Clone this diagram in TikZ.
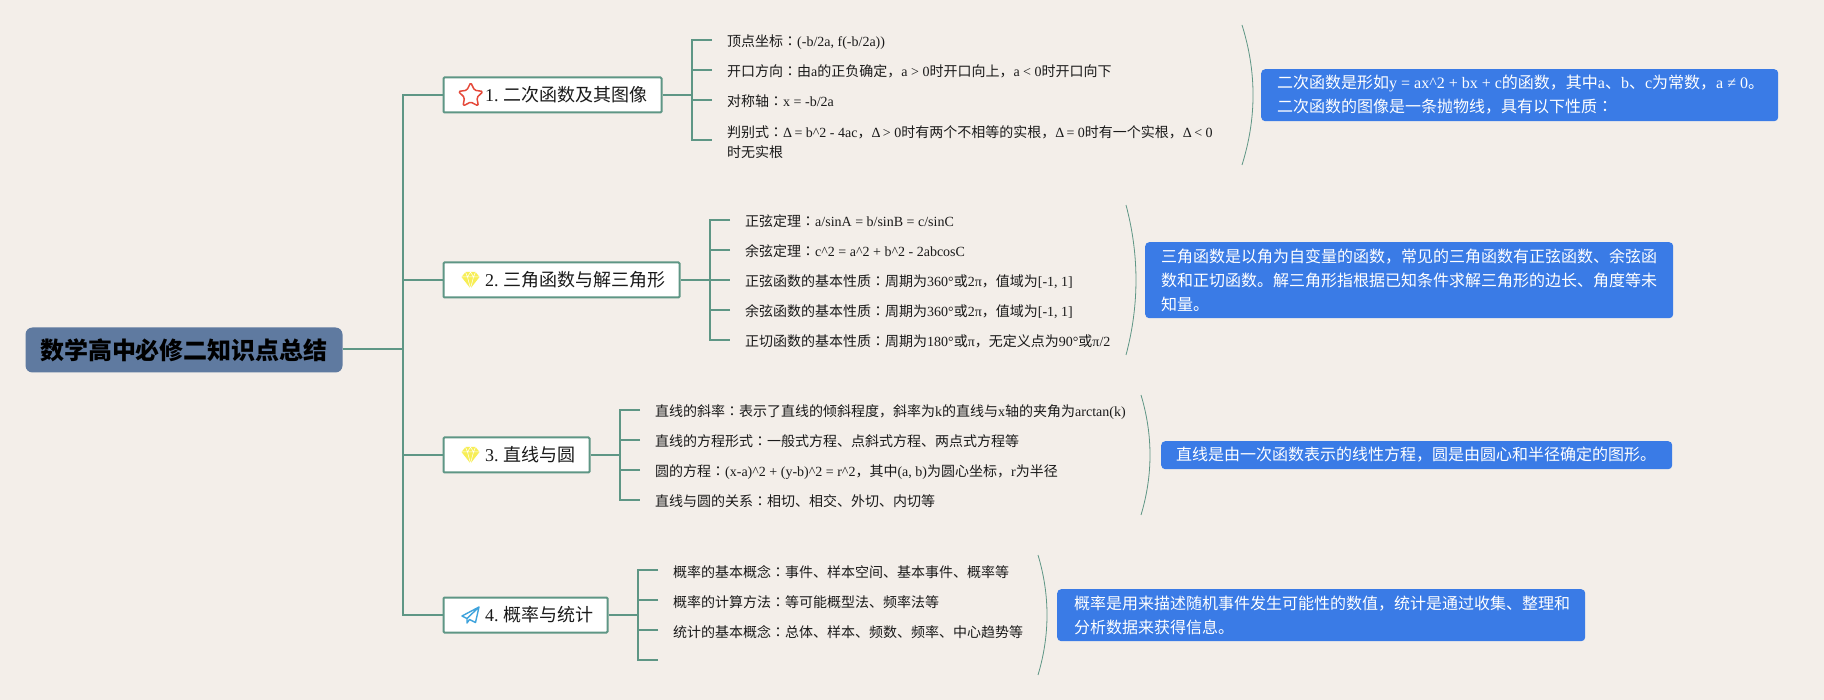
\documentclass[tikz,border=0pt]{standalone}
\usepackage{fontspec}
\setmainfont{Liberation Serif}
\newfontfamily\cjk{Noto Sans CJK SC}
\newfontfamily\cjkt{Noto Sans CJK TC}
\newcommand\Cn[1]{{\cjk #1}}
\newcommand\Co{{\cjkt ：}}
\newcommand\ca{\textasciicircum{}}
\newcommand\Dl{Δ\kern-1.2pt}
\frenchspacing
\definecolor{bgc}{HTML}{F3EEE9}
\definecolor{linec}{HTML}{5E9685}
\definecolor{rootc}{HTML}{5F7AA0}
\definecolor{bluec}{HTML}{3A7BE6}
\definecolor{inkc}{HTML}{1A1A1A}
\definecolor{starc}{HTML}{E5493A}
\definecolor{gemc}{HTML}{F7EE55}
\definecolor{planec}{HTML}{3FA3DC}
\tikzset{
  conn/.style={draw=linec,line width=2pt},
  brace/.style={draw=linec,line width=0.8pt},
  rootnode/.style={fill=rootc,rounded corners=7pt,minimum width=317pt,minimum height=45pt,inner sep=0pt,text=black,font=\fontsize{24}{28}\selectfont\bfseries},
  branch/.style={draw=linec,fill=white,line width=2pt,rounded corners=1pt,minimum height=35pt,inner sep=0pt,anchor=west,text=inkc,font=\fontsize{18}{22}\selectfont},
  leafbase/.style={anchor=west,inner xsep=15pt,inner ysep=0pt,align=left,text=inkc,font=\fontsize{14}{20}\selectfont},
  leaf/.style={leafbase,text height=14pt,text depth=0pt},
  note/.style={fill=bluec,rounded corners=4pt,anchor=north west,inner sep=0pt,text=white,font=\fontsize{16}{24}\selectfont},
  notetext/.style={anchor=west,inner sep=0pt,align=left,text=white,font=\fontsize{16}{24}\selectfont},
}
\newcommand\branchtext[2]{\makebox[#1][l]{\hspace{41.5pt}#2}}
\begin{document}
\begin{tikzpicture}[x=1pt,y=-1pt]
\useasboundingbox (0,0) rectangle (1824,700);
\fill[bgc] (0,0) rectangle (1824,700);

% root
\node[rootnode] (root) at (184,350) {\cjk 数学高中必修二知识点总结};

% branches
\node[branch] (b1) at (442.5,95) {\branchtext{218pt}{1. \Cn{二次函数及其图像}}};
\node[branch] (b2) at (442.5,280) {\branchtext{236pt}{2. \Cn{三角函数与解三角形}}};
\node[branch] (b3) at (442.5,455) {\branchtext{146pt}{3. \Cn{直线与圆}}};
\node[branch] (b4) at (442.5,615) {\branchtext{164pt}{4. \Cn{概率与统计}}};

% spine
\coordinate (sp) at (403,349);
\draw[conn] (root.east |- sp) -- (sp);
\draw[conn] (b1.west) -- (sp |- b1.west) -- (sp |- b4.west) -- (b4.west);
\draw[conn] (b2.west) -- (sp |- b2.west);
\draw[conn] (b3.west) -- (sp |- b3.west);

% leaves 1
\node[leaf] (l11) at (712,40) {\Cn{顶点坐标}\Co(-b/2a, f(-b/2a))};
\node[leaf] (l12) at (712,70) {\Cn{开口方向}\Co\Cn{由}a\Cn{的正负确定，}a > 0\Cn{时开口向上，}a < 0\Cn{时开口向下}};
\node[leaf] (l13) at (712,100) {\Cn{对称轴}\Co x = -b/2a};
\node[leafbase] (l14) at (712,140) {\rule{0pt}{17pt}\Cn{判别式}\Co\Dl{} = b\ca 2 - 4ac\Cn{，}\Dl{} > 0\Cn{时有两个不相等的实根，}\Dl{} = 0\Cn{时有一个实根，}\Dl{} < 0\\\Cn{时无实根}};
\coordinate (j1) at (692,95);
\draw[conn] (b1.east) -- (j1);
\draw[conn] (l11.west) -- (j1 |- l11.west) -- (j1 |- l14.west) -- (l14.west);
\draw[conn] (l12.west) -- (j1 |- l12.west);
\draw[conn] (l13.west) -- (j1 |- l13.west);

% leaves 2
\node[leaf] (l21) at (730,220) {\Cn{正弦定理}\Co a/sinA = b/sinB = c/sinC};
\node[leaf] (l22) at (730,250) {\Cn{余弦定理}\Co c\ca 2 = a\ca 2 + b\ca 2 - 2abcosC};
\node[leaf] (l23) at (730,280) {\Cn{正弦函数的基本性质}\Co\Cn{周期为}360°\Cn{或}2π\Cn{，值域为}[-1, 1]};
\node[leaf] (l24) at (730,310) {\Cn{余弦函数的基本性质}\Co\Cn{周期为}360°\Cn{或}2π\Cn{，值域为}[-1, 1]};
\node[leaf] (l25) at (730,340) {\Cn{正切函数的基本性质}\Co\Cn{周期为}180°\Cn{或}π\Cn{，无定义点为}90°\Cn{或}π/2};
\coordinate (j2) at (710,280);
\draw[conn] (b2.east) -- (l23.west);
\draw[conn] (l21.west) -- (j2 |- l21.west) -- (j2 |- l25.west) -- (l25.west);
\draw[conn] (l22.west) -- (j2 |- l22.west);
\draw[conn] (l24.west) -- (j2 |- l24.west);

% leaves 3
\node[leaf] (l31) at (640,410) {\Cn{直线的斜率}\Co\Cn{表示了直线的倾斜程度，斜率为}k\Cn{的直线与}x\Cn{轴的夹角为}arctan(k)};
\node[leaf] (l32) at (640,440) {\Cn{直线的方程形式}\Co\Cn{一般式方程、点斜式方程、两点式方程等}};
\node[leaf] (l33) at (640,470) {\Cn{圆的方程}\Co(x-a)\ca 2 + (y-b)\ca 2 = r\ca 2\Cn{，其中}(a, b)\Cn{为圆心坐标，}r\Cn{为半径}};
\node[leaf] (l34) at (640,500) {\Cn{直线与圆的关系}\Co\Cn{相切、相交、外切、内切等}};
\coordinate (j3) at (620,455);
\draw[conn] (b3.east) -- (j3);
\draw[conn] (l31.west) -- (j3 |- l31.west) -- (j3 |- l34.west) -- (l34.west);
\draw[conn] (l32.west) -- (j3 |- l32.west);
\draw[conn] (l33.west) -- (j3 |- l33.west);

% leaves 4
\node[leaf] (l41) at (658,570) {\Cn{概率的基本概念}\Co\Cn{事件、样本空间、基本事件、概率等}};
\node[leaf] (l42) at (658,600) {\Cn{概率的计算方法}\Co\Cn{等可能概型法、频率法等}};
\node[leaf] (l43) at (658,630) {\Cn{统计的基本概念}\Co\Cn{总体、样本、频数、频率、中心趋势等}};
\coordinate (l44) at (658,660);
\coordinate (j4) at (638,615);
\draw[conn] (b4.east) -- (j4);
\draw[conn] (l41.west) -- (j4 |- l41.west) -- (j4 |- l44) -- (l44);
\draw[conn] (l42.west) -- (j4 |- l42.west);
\draw[conn] (l43.west) -- (j4 |- l43.west);

% brackets
\coordinate (c1a) at (1242,25); \coordinate (c1b) at (1242,165);
\coordinate (c2a) at (1126,205); \coordinate (c2b) at (1126,355);
\coordinate (c3a) at (1141,395); \coordinate (c3b) at (1141,515);
\coordinate (c4a) at (1038,555); \coordinate (c4b) at (1038,675);
\draw[brace] (c1a) .. controls (1256.7,72) and (1256.7,118) .. (c1b);
\draw[brace] (c2a) .. controls (1139.3,255) and (1139.3,305) .. (c2b);
\draw[brace] (c3a) .. controls (1153,435) and (1153,475) .. (c3b);
\draw[brace] (c4a) .. controls (1050,595) and (1050,635) .. (c4b);

% notes
\node[note,minimum width=517pt,minimum height=52pt] (n1) at (1261,69) {};
\node[notetext] (t1) at (1277,95) {\Cn{二次函数是形如}y = ax\ca 2 + bx + c\Cn{的函数，其中}a\Cn{、}b\Cn{、}c\Cn{为常数，}a ≠ 0\Cn{。}\\\Cn{二次函数的图像是一条抛物线，具有以下性质}\Co};
\node[note,minimum width=528pt,minimum height=76pt] (n2) at (1145,242) {};
\node[notetext] (t2) at (1161,280) {\Cn{三角函数是以角为自变量的函数，常见的三角函数有正弦函数、余弦函}\\\Cn{数和正切函数。解三角形指根据已知条件求解三角形的边长、角度等未}\\\Cn{知量。}};
\node[note,minimum width=511pt,minimum height=28pt] (n3) at (1161,441) {};
\node[notetext] (t3) at (1176,455) {\Cn{直线是由一次函数表示的线性方程，圆是由圆心和半径确定的图形。}};
\node[note,minimum width=528pt,minimum height=52pt] (n4) at (1057,589) {};
\node[notetext] (t4) at (1074,615) {\Cn{概率是用来描述随机事件发生可能性的数值，统计是通过收集、整理和}\\\Cn{分析数据来获得信息。}};

% icon: star
\begin{scope}[shift={(470.7,95.5)}]
\draw[draw=starc,line width=1.5pt,line join=round,rounded corners=1.5pt]
  (0,-13) -- (3.82,-5.26) -- (12.36,-4.02) -- (6.18,2.01) -- (7.64,10.52) -- (0,6.5) -- (-7.64,10.52) -- (-6.18,2.01) -- (-12.36,-4.02) -- (-3.82,-5.26) -- cycle;
\end{scope}
% icon: gems
\foreach \cx/\cy in {470.5/280, 470.5/455}{
  \begin{scope}[shift={(\cx,\cy)}]
    \fill[gemc] (-5,-8) -- (5,-8) -- (9,-3) -- (0,8.5) -- (-9,-3) -- cycle;
    \draw[white,line width=0.5pt] (-9,-3) -- (9,-3) (-5,-8) -- (-3,-3) -- (0,8.5) -- (3,-3) -- (5,-8) (-3,-3) -- (0,-8) -- (3,-3);
  \end{scope}
}
% icon: paper plane
\begin{scope}[shift={(470.5,615)}]
  \draw[draw=planec,line width=1.4pt,line join=round]
    (8.5,-8) -- (-8.5,1) -- (-3.5,3.5) -- (8.5,-8) -- (5,7.5) -- (-1,4.5) -- (-3.5,8) -- (-3.5,3.5);
\end{scope}
\end{tikzpicture}
\end{document}
